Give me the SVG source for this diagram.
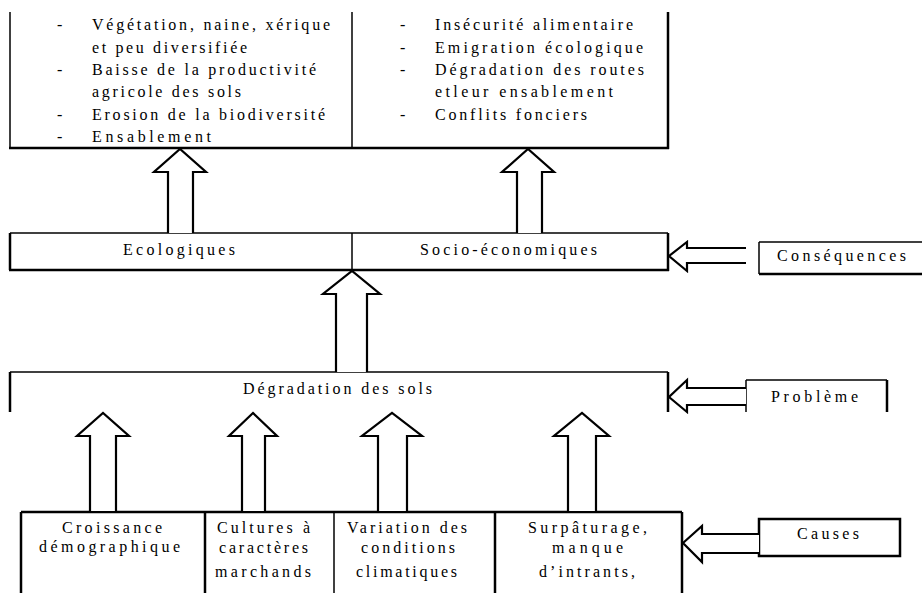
<svg xmlns="http://www.w3.org/2000/svg" width="922" height="593" viewBox="0 0 922 593">
<style>
text{font-family:"Liberation Serif","Times New Roman",serif;font-size:16px;fill:#000;}
.l{stroke:#000;stroke-width:1.5;fill:none;}
.t{stroke:#000;stroke-width:2.5;fill:none;}
.arr{stroke:#000;stroke-width:2.2;fill:#fff;stroke-linejoin:miter;}
</style>
<rect width="922" height="593" fill="#fff"/>
<g id="consequences-detail">
<line class="l" x1="10" y1="12" x2="10" y2="148"/>
<line class="l" x1="352" y1="12" x2="352" y2="148"/>
<line class="t" x1="668" y1="12" x2="668" y2="149"/>
<line class="t" x1="9" y1="148" x2="669" y2="148"/>
<text x="57" y="30">-</text>
<text x="92" y="30" textLength="238" lengthAdjust="spacing">Végétation, naine, xérique</text>
<text x="92" y="53" textLength="155" lengthAdjust="spacing">et peu diversifiée</text>
<text x="57" y="75">-</text>
<text x="92" y="75" textLength="224" lengthAdjust="spacing">Baisse de la productivité</text>
<text x="92" y="97" textLength="149" lengthAdjust="spacing">agricole des sols</text>
<text x="57" y="120">-</text>
<text x="92" y="120" textLength="233" lengthAdjust="spacing">Erosion de la biodiversité</text>
<text x="57" y="142">-</text>
<text x="92" y="142" textLength="119" lengthAdjust="spacing">Ensablement</text>
<text x="400" y="30">-</text>
<text x="435" y="30" textLength="198" lengthAdjust="spacing">Insécurité alimentaire</text>
<text x="400" y="53">-</text>
<text x="435" y="53" textLength="208" lengthAdjust="spacing">Emigration écologique</text>
<text x="400" y="75">-</text>
<text x="435" y="75" textLength="209" lengthAdjust="spacing">Dégradation des routes</text>
<text x="435" y="97" textLength="178" lengthAdjust="spacing">etleur ensablement</text>
<text x="400" y="120">-</text>
<text x="435" y="120" textLength="152" lengthAdjust="spacing">Conflits fonciers</text>
</g>
<g id="consequences">
<line class="l" x1="10" y1="233" x2="668" y2="233"/>
<line class="t" x1="10" y1="233" x2="10" y2="270"/>
<line class="l" x1="352" y1="233" x2="352" y2="270"/>
<line class="t" x1="668" y1="233" x2="668" y2="271"/>
<line class="t" x1="9" y1="270" x2="669" y2="270"/>
<text x="123" y="255" textLength="112" lengthAdjust="spacing">Ecologiques</text>
<text x="420" y="255" textLength="177" lengthAdjust="spacing">Socio-économiques</text>
</g>
<g id="label-consequences">
<line class="l" x1="759" y1="242" x2="922" y2="242"/>
<line class="l" x1="759" y1="242" x2="759" y2="274"/>
<line class="t" x1="759" y1="274" x2="922" y2="274"/>
<text x="777" y="261" textLength="129" lengthAdjust="spacing">Conséquences</text>
</g>
<g id="probleme">
<line class="l" x1="10" y1="372" x2="668" y2="372"/>
<line class="t" x1="10" y1="372" x2="10" y2="412"/>
<line class="t" x1="668" y1="372" x2="668" y2="412"/>
<text x="243" y="394" textLength="189" lengthAdjust="spacing">Dégradation des sols</text>
</g>
<g id="label-probleme">
<line class="l" x1="746" y1="380" x2="887" y2="380"/>
<line class="l" x1="746" y1="380" x2="746" y2="412"/>
<line class="t" x1="887" y1="380" x2="887" y2="412"/>
<text x="771" y="402" textLength="87" lengthAdjust="spacing">Problème</text>
</g>
<g id="causes">
<line class="t" x1="21" y1="512" x2="682" y2="512"/>
<line class="t" x1="21" y1="512" x2="21" y2="593"/>
<line class="t" x1="205" y1="512" x2="205" y2="593"/>
<line class="l" x1="334" y1="512" x2="334" y2="593"/>
<line class="t" x1="495" y1="512" x2="495" y2="593"/>
<line class="t" x1="682" y1="512" x2="682" y2="593"/>
<text x="62" y="533" textLength="100" lengthAdjust="spacing">Croissance</text>
<text x="39" y="552" textLength="141" lengthAdjust="spacing">démographique</text>
<text x="217" y="533" textLength="93" lengthAdjust="spacing">Cultures à</text>
<text x="219" y="553" textLength="89" lengthAdjust="spacing">caractères</text>
<text x="215" y="577" textLength="96" lengthAdjust="spacing">marchands</text>
<text x="347" y="533" textLength="120" lengthAdjust="spacing">Variation des</text>
<text x="361" y="553" textLength="94" lengthAdjust="spacing">conditions</text>
<text x="356" y="577" textLength="101" lengthAdjust="spacing">climatiques</text>
<text x="528" y="533" textLength="119" lengthAdjust="spacing">Surpâturage,</text>
<text x="552" y="553" textLength="71" lengthAdjust="spacing">manque</text>
<text x="539" y="577" textLength="96" lengthAdjust="spacing">d’intrants,</text>
</g>
<g id="label-causes">
<rect x="759" y="519" width="141" height="37" fill="none" stroke="#000" stroke-width="2.5"/>
<text x="797" y="539" textLength="62" lengthAdjust="spacing">Causes</text>
</g>
<g id="connectors">
<polyline class="arr" points="168,233 168,172 154,172 180,149 206,172 193,172 193,233"/>
<polyline class="arr" points="517,233 517,172 502,172 528,149 554,172 542,172 542,233"/>
<polyline class="arr" points="336,372 336,294 323,294 352,271 380,294 367,294 367,372"/>
<polyline class="arr" points="90,511 90,436 77,436 103,413 129,436 116,436 116,511"/>
<polyline class="arr" points="242,511 242,436 229,436 253,413 277,436 265,436 265,511"/>
<polyline class="arr" points="378,511 378,436 362,436 392,413 422,436 407,436 407,511"/>
<polyline class="arr" points="568,511 568,436 554,436 582,413 609,436 596,436 596,511"/>
<polyline class="arr" points="746,248 687,248 687,242 669,256 687,271 687,263 746,263"/>
<polyline class="arr" points="746,388 687,388 687,380 669,397 687,412 687,405 746,405"/>
<polyline class="arr" points="759,534 702,534 702,526 683,543 702,562 702,553 759,553"/>
</g>
</svg>
